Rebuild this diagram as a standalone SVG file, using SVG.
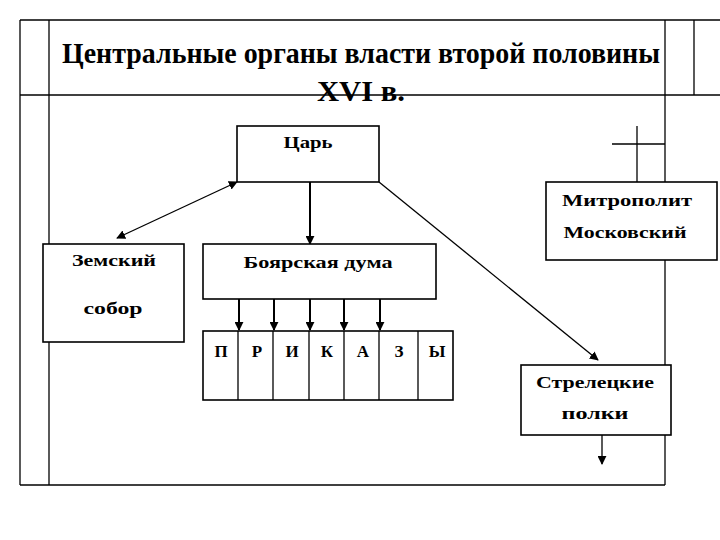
<svg xmlns="http://www.w3.org/2000/svg" width="720" height="540" viewBox="0 0 720 540">
<style>
.f{fill:none;stroke:#000;stroke-width:1.3}
.b{fill:#fff;stroke:#000;stroke-width:1.6}
.c{fill:none;stroke:#000;stroke-width:1.3}
.k{fill:none;stroke:#000;stroke-width:2}
text{font-family:'Liberation Serif','DejaVu Serif','Times New Roman',serif;font-weight:bold;fill:#000;text-anchor:middle}
.n{font-size:17px}
.h{font-size:30px}
</style>
<defs>
<marker id="ah" viewBox="0 0 10 10" refX="9" refY="5" markerWidth="9" markerHeight="9" markerUnits="userSpaceOnUse" orient="auto-start-reverse">
<path d="M0,0 L10,5 L0,10 z" fill="#000"/>
</marker>
</defs>
<rect width="720" height="540" fill="#fff"/>
<g id="frame">
<line class="f" x1="20" y1="20" x2="720" y2="20"/>
<line class="f" x1="20" y1="95" x2="720" y2="95"/>
<line class="f" x1="20" y1="20" x2="20" y2="485"/>
<line class="f" x1="49" y1="20" x2="49" y2="485"/>
<line class="f" x1="665" y1="20" x2="665" y2="485"/>
<line class="f" x1="694" y1="20" x2="694" y2="95"/>
<line class="f" x1="20" y1="485" x2="665" y2="485"/>
<line class="f" x1="637" y1="126" x2="637" y2="182"/>
<line class="f" x1="612" y1="144" x2="665" y2="144"/>
</g>
<g id="title">
<text class="h" x="361" y="63" textLength="598" lengthAdjust="spacingAndGlyphs">Центральные органы власти второй половины</text>
<text class="h" x="361" y="101" textLength="88" lengthAdjust="spacingAndGlyphs">XVI в.</text>
</g>
<g id="connectors">
<line class="k" x1="310" y1="182" x2="310" y2="244" marker-end="url(#ah)"/>
<line class="c" x1="237" y1="182" x2="117" y2="238" marker-start="url(#ah)" marker-end="url(#ah)"/>
<line class="c" x1="379" y1="182" x2="598" y2="360" marker-end="url(#ah)"/>
<line class="k" x1="239" y1="299" x2="239" y2="330" marker-end="url(#ah)"/>
<line class="k" x1="274" y1="299" x2="274" y2="330" marker-end="url(#ah)"/>
<line class="k" x1="310" y1="299" x2="310" y2="330" marker-end="url(#ah)"/>
<line class="k" x1="344" y1="299" x2="344" y2="330" marker-end="url(#ah)"/>
<line class="k" x1="380" y1="299" x2="380" y2="330" marker-end="url(#ah)"/>
<line class="c" x1="602" y1="435" x2="602" y2="464" marker-end="url(#ah)"/>
</g>
<g id="tsar">
<rect class="b" x="237" y="126" width="142" height="56"/>
<text class="n" x="308" y="148" textLength="49" lengthAdjust="spacingAndGlyphs">Царь</text>
</g>
<g id="duma">
<rect class="b" x="203" y="244" width="233" height="55"/>
<text class="n" x="318" y="268" textLength="149" lengthAdjust="spacingAndGlyphs">Боярская  дума</text>
</g>
<g id="zemsky">
<rect class="b" x="43" y="244" width="141" height="98"/>
<text class="n" x="114" y="266" textLength="84" lengthAdjust="spacingAndGlyphs">Земский</text>
<text class="n" x="113" y="314" textLength="59" lengthAdjust="spacingAndGlyphs">собор</text>
</g>
<g id="prikazy">
<rect class="b" x="203" y="331" width="250" height="69"/>
<line class="c" x1="238" y1="331" x2="238" y2="400"/>
<line class="c" x1="273" y1="331" x2="273" y2="400"/>
<line class="c" x1="309" y1="331" x2="309" y2="400"/>
<line class="c" x1="344" y1="331" x2="344" y2="400"/>
<line class="c" x1="379" y1="331" x2="379" y2="400"/>
<line class="c" x1="418" y1="331" x2="418" y2="400"/>
<text class="n" x="221" y="357">П</text>
<text class="n" x="257" y="357">Р</text>
<text class="n" x="292" y="357">И</text>
<text class="n" x="327" y="357">К</text>
<text class="n" x="363" y="357">А</text>
<text class="n" x="399" y="357">З</text>
<text class="n" x="437" y="357">Ы</text>
</g>
<g id="metropolitan">
<rect class="b" x="546" y="182" width="171" height="78"/>
<text class="n" x="627" y="206" textLength="130" lengthAdjust="spacingAndGlyphs">Митрополит</text>
<text class="n" x="625" y="238" textLength="123" lengthAdjust="spacingAndGlyphs">Московский</text>
</g>
<g id="streltsy">
<rect class="b" x="521" y="365" width="150" height="70"/>
<text class="n" x="595" y="388" textLength="118" lengthAdjust="spacingAndGlyphs">Стрелецкие</text>
<text class="n" x="595" y="419" textLength="67" lengthAdjust="spacingAndGlyphs">полки</text>
</g>
</svg>
